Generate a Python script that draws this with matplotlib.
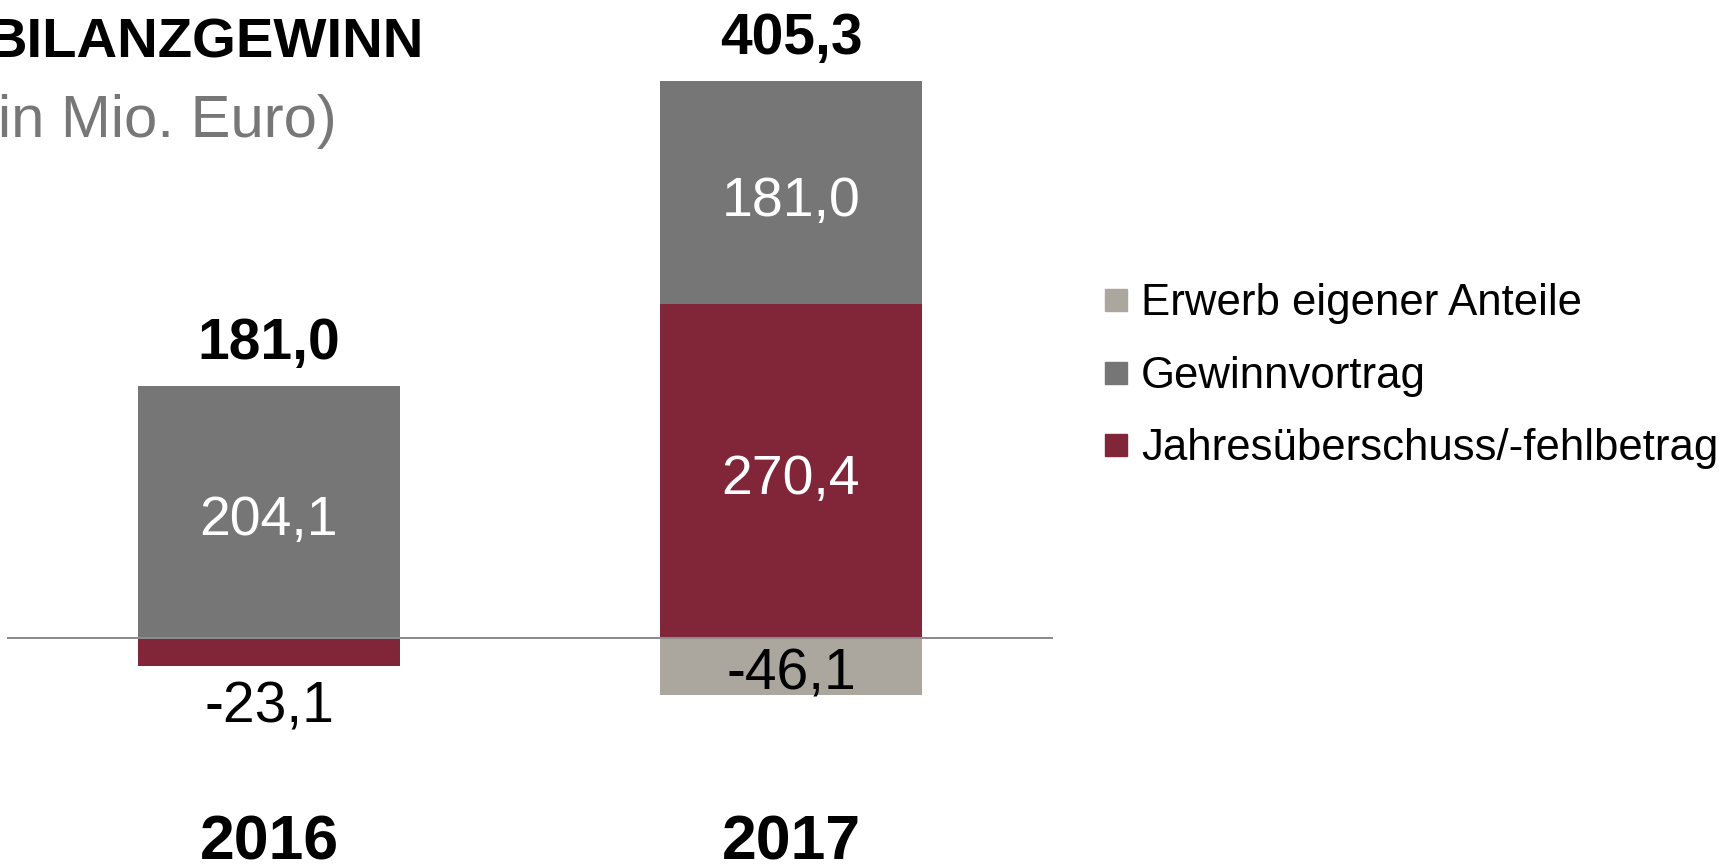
import matplotlib
matplotlib.use("Agg")
import matplotlib.pyplot as plt
from matplotlib.transforms import blended_transform_factory
import numpy as np

plt.rcParams['font.family'] = ['Liberation Sans', 'DejaVu Sans']

# ---- data ----
years = ["2016", "2017"]
series_names = ["Jahresüberschuss/-fehlbetrag", "Gewinnvortrag", "Erwerb eigener Anteile"]
jahres = [-23.1, 270.4]
gewinnvortrag = [204.1, 181.0]
erwerb = [0.0, -46.1]
totals = ["181,0", "405,3"]
title = "BILANZGEWINN"
subtitle = "(in Mio. Euro)"

colors = {"Jahresüberschuss/-fehlbetrag": "#812538",
          "Gewinnvortrag": "#767676",
          "Erwerb eigener Anteile": "#aba79f"}

W, H, DPI = 1736, 866, 100
fig = plt.figure(figsize=(W / DPI, H / DPI), dpi=DPI)
ax = fig.add_axes([0, 0, 1, 1])
ax.set_axis_off()

# scale: zero line at 637.7 px from top, 1.234 px per unit
zero_px = 637.7
ppu = 1.234
ax.set_ylim(-(H - zero_px) / ppu, zero_px / ppu)
# x: centers at 269 and 791 px
cx0, cx1 = 269.0, 791.0
ppx = cx1 - cx0
ax.set_xlim(-cx0 / ppx, (W - cx0) / ppx)

x = np.arange(len(years))
bar_w = 262 / ppx

def fmt(v):
    return f"{v:.1f}".replace(".", ",")

pos_bottom = np.zeros(len(years))
neg_bottom = np.zeros(len(years))
px2pt = 72 / DPI
for name, vals in zip(series_names, [jahres, gewinnvortrag, erwerb]):
    vals = np.array(vals)
    bottoms = np.where(vals >= 0, pos_bottom, neg_bottom)
    ax.bar(x, vals, bottom=bottoms, width=bar_w, color=colors[name], zorder=2, linewidth=0)
    for i, v in enumerate(vals):
        if v == 0:
            continue
        center = bottoms[i] + v / 2
        if abs(v) * ppu > 45:
            col = "white" if name != "Erwerb eigener Anteile" else "black"
            fs = 40 if col == "white" else 41
            ax.annotate(fmt(v), (x[i], center), xytext=(0, -23.5 * px2pt),
                        textcoords="offset points", ha="center", va="baseline",
                        fontsize=fs, color=col, zorder=4)
        else:
            edge = bottoms[i] + v
            ax.annotate(fmt(v), (x[i], edge), xytext=(0, -56 * px2pt),
                        textcoords="offset points", ha="center", va="baseline",
                        fontsize=41, color="black", zorder=4)
    pos_bottom = pos_bottom + np.where(vals > 0, vals, 0)
    neg_bottom = neg_bottom + np.where(vals < 0, vals, 0)

# totals above positive stacks
for i, t in enumerate(totals):
    ax.annotate(t, (x[i], pos_bottom[i]), xytext=(0, 27 * px2pt),
                textcoords="offset points", ha="center", va="baseline",
                fontsize=41, fontweight="bold", color="black")

# zero line
ax.axhline(0, xmin=8 / W, xmax=1052 / W, color="#8c8c8c", lw=2 * px2pt, zorder=3)

# year labels
trans = blended_transform_factory(ax.transData, ax.transAxes)
for i, y in enumerate(years):
    ax.text(x[i], 6 / H, y, transform=trans, ha="center", va="baseline",
            fontsize=45, fontweight="bold", color="black")

# title and subtitle
fig.text(424 / W, 1 - 57 / H, title, ha="right", va="baseline",
         fontsize=40.5, fontweight="bold", color="black")
fig.text(337 / W, 1 - 137 / H, subtitle, ha="right", va="baseline",
         fontsize=43, color="#777777")

# legend (manual, order top to bottom)
leg_order = ["Erwerb eigener Anteile", "Gewinnvortrag", "Jahresüberschuss/-fehlbetrag"]
row_y = [300, 373, 445]
for name, ry in zip(leg_order, row_y):
    fig.patches.append(plt.Rectangle((1105 / W, 1 - (ry + 11) / H), 22 / W, 22 / H,
                                     transform=fig.transFigure, color=colors[name]))
    fig.text(1141 / W, 1 - (ry + 15) / H, name, ha="left", va="baseline",
             fontsize=31.5, color="black")

fig.savefig("out.png", dpi=DPI)
